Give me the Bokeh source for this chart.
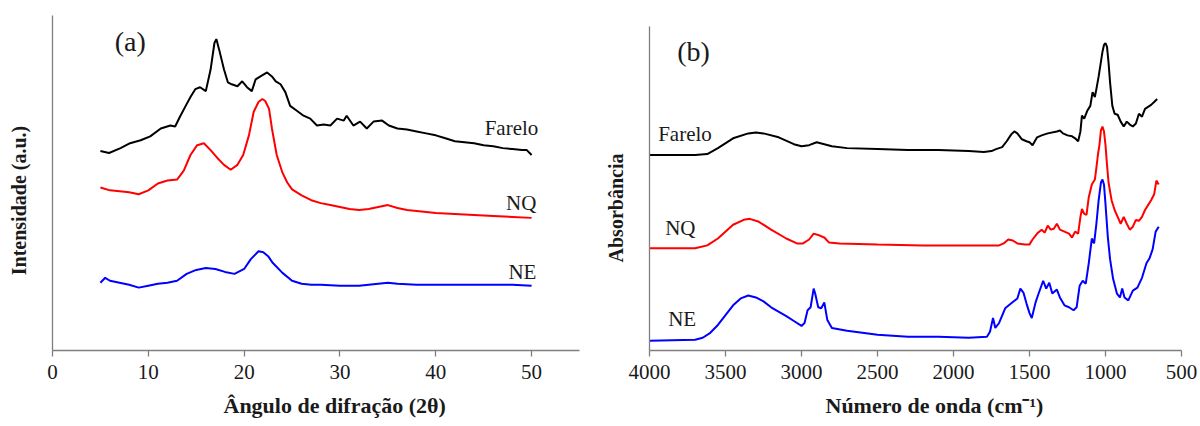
from bokeh.plotting import figure
from bokeh.layouts import row
from bokeh.models import Range1d, FixedTicker, Title
from bokeh.core.properties import value
from bokeh.embed import file_html
from bokeh.resources import INLINE

# ---------------- Panel (a): XRD ----------------
xrd_far_x = [5.0, 5.9, 7.1, 8.1, 9.2, 10.2, 11.3, 12.3, 12.8, 13.3, 13.9, 14.4, 14.9, 15.4, 16.0, 16.5, 16.9,
             17.1, 17.4, 17.9, 18.3, 18.7, 19.3, 19.8, 20.3, 20.8, 21.2, 21.7, 22.4, 22.9, 23.3, 23.8, 24.3,
             24.8, 25.5, 26.2, 26.9, 27.6, 28.3, 29.0, 29.7, 30.4, 30.7, 31.4, 32.1, 32.8, 33.5, 34.4, 35.1,
             36, 37, 38, 39, 40, 41, 42, 43, 44, 45, 46, 47, 48, 49, 49.5, 50]
xrd_far_y = [202, 200, 205, 210, 213, 217, 225, 228, 227, 237, 248, 257, 265, 267, 263, 285, 312,
             316, 305, 285, 272, 270, 268, 273, 267, 263, 275, 278, 282, 278, 273, 270, 262,
             248, 243, 238, 235, 228, 229, 228, 235, 233, 238, 228, 232, 225, 232, 233, 228,
             225, 224, 222, 220, 218, 215, 212, 211, 210, 208, 207, 205, 204, 203, 203, 198]

xrd_nq_x = [5, 6, 7, 8, 9, 10, 11, 12, 13, 13.7, 14.4, 15.1, 15.8, 16.5, 17.2, 17.9, 18.6, 19.3, 19.9,
            20.5, 21.0, 21.5, 21.9, 22.2, 22.6, 22.9, 23.4, 24.0, 24.5, 25, 26, 27, 28, 29, 30, 31, 32,
            33, 34, 35, 36, 37, 38, 39, 40, 42, 44, 46, 48, 50]
xrd_nq_y = [165, 162, 161, 160, 158, 162, 169, 172, 173, 182, 198, 208, 210, 203, 195, 188, 183, 188, 198,
            218, 242, 252, 255, 253, 245, 225, 198, 180, 170, 163, 157, 152, 149, 147, 145, 143, 142,
            143, 145, 147, 144, 142, 141, 140, 139, 138, 137, 136, 135, 134]

xrd_ne_x = [5, 5.5, 6, 7, 8, 9, 10, 11, 12, 13, 14, 15, 16, 17, 18, 19, 20, 20.7, 21.5, 22, 22.5, 23, 24,
            25, 26, 27, 28, 30, 32, 34, 35, 36, 38, 40, 42, 45, 48, 50]
xrd_ne_y = [68, 73, 70, 68, 66, 63, 65, 67, 68, 70, 77, 81, 83, 82, 79, 77, 82, 92, 100, 99, 95, 88, 78,
            70, 67, 66, 66, 65, 65, 67, 68, 67, 66, 66, 66, 66, 66, 65]

xrd_xticks = [0, 10, 20, 30, 40, 50]

# ---------------- Panel (b): FTIR ----------------
ft_far_x = [4000, 3700, 3620, 3550, 3450, 3350, 3300, 3250, 3150, 3050, 3000, 2950, 2900, 2850, 2800, 2700,
            2500, 2300, 2100, 1900, 1800, 1750, 1720, 1680, 1650, 1620, 1600, 1580, 1550, 1520, 1500, 1480,
            1450, 1420, 1380, 1320, 1300, 1280, 1250, 1220, 1200, 1180, 1165, 1155, 1140, 1120, 1100, 1085,
            1070, 1060, 1045, 1035, 1020, 1010, 1000, 990, 980, 970, 955, 940, 920, 900, 880, 860, 840, 820,
            800, 780, 760, 740, 720, 700, 680, 660]
ft_far_y = [199, 199, 200, 206, 216, 221, 222, 221, 217, 210, 208, 209, 212, 210, 208, 206,
            205, 204, 204, 203, 202, 203, 205, 207, 213, 220, 223, 221, 215, 213, 212, 209,
            217, 219, 221, 223, 224, 221, 219, 218, 216, 213, 223, 239, 236, 244, 249, 263,
            258, 266, 279, 289, 304, 311, 313, 309, 293, 273, 249, 241, 240, 233, 228, 233, 230, 228,
            231, 241, 238, 246, 248, 250, 253, 256]

ft_nq_x = [4000, 3700, 3620, 3550, 3450, 3380, 3340, 3280, 3200, 3100, 3030, 2990, 2950, 2920, 2880, 2850,
           2820, 2750, 2500, 2200, 1900, 1700, 1670, 1640, 1610, 1580, 1530, 1500, 1480, 1450, 1420, 1400,
           1380, 1360, 1340, 1320, 1300, 1270, 1240, 1220, 1200, 1180, 1165, 1155, 1140, 1125, 1110, 1090,
           1070, 1060, 1050, 1040, 1030, 1020, 1010, 1000, 990, 980, 960, 940, 920, 900, 880, 860, 840, 820,
           800, 780, 760, 740, 720, 700, 680, 665, 650]
ft_nq_y = [104, 104, 107, 114, 128, 133, 134, 131, 123, 114, 109, 109, 113, 119, 117, 115,
           110, 109, 108, 107, 107, 107, 109, 113, 112, 109, 108, 108, 113, 119, 123, 120,
           127, 123, 124, 129, 123, 121, 119, 115, 121, 119, 136, 144, 139, 138, 156, 169,
           174, 186, 199, 209, 224, 228, 223, 209, 189, 171, 153, 143, 136, 129, 136, 129, 123, 126,
           133, 132, 136, 143, 148, 153, 159, 173, 169]

ft_ne_x = [4000, 3700, 3650, 3600, 3550, 3500, 3450, 3400, 3350, 3300, 3250, 3200, 3100, 3050, 3000, 2980,
           2960, 2940, 2920, 2910, 2890, 2870, 2850, 2830, 2800, 2700, 2500, 2300, 2100, 1900, 1780, 1760,
           1740, 1725, 1700, 1660, 1620, 1580, 1560, 1540, 1520, 1500, 1485, 1460, 1440, 1410, 1390, 1370,
           1350, 1320, 1300, 1270, 1240, 1210, 1190, 1170, 1150, 1130, 1110, 1090, 1075, 1060, 1045, 1030,
           1020, 1010, 1000, 985, 970, 950, 925, 905, 890, 875, 850, 820, 790, 760, 730, 710, 690, 670, 650]
ft_ne_y = [10, 11, 13, 18, 26, 36, 46, 53, 56, 54, 50, 44, 35, 30, 25, 28,
           41, 44, 63, 58, 44, 43, 49, 31, 23, 20, 16, 14, 14, 13, 14, 19,
           33, 23, 28, 43, 48, 53, 63, 59, 48, 38, 33, 49, 58, 71, 63, 69,
           58, 62, 54, 46, 44, 41, 44, 66, 71, 68, 89, 114, 109, 129, 153, 171,
           174, 169, 149, 116, 93, 73, 58, 54, 63, 54, 51, 61, 64, 74, 89, 94, 103, 121, 126]

ft_xticks = [4000, 3500, 3000, 2500, 2000, 1500, 1000, 500]

FONT = "Liberation Serif"
AXIS_GRAY = "#7f7f7f"
TXT = "#1a1a1a"
NBSP = "\u00a0"


def style(p, ylabel, pad, ybounds):
    p.grid.visible = False
    p.outline_line_color = None
    p.background_fill_color = "white"
    p.border_fill_color = "white"
    for ax in p.xaxis:
        ax.axis_line_color = AXIS_GRAY
        ax.axis_line_width = 1.3
        ax.major_tick_line_color = AXIS_GRAY
        ax.major_tick_line_width = 1.3
        ax.major_tick_out = 6
        ax.major_tick_in = 0
        ax.minor_tick_line_color = None
        ax.major_label_text_font = FONT
        ax.major_label_text_font_size = "21px"
        ax.major_label_text_color = TXT
        ax.major_label_standoff = 8
    for ax in p.yaxis:
        ax.axis_line_color = AXIS_GRAY
        ax.axis_line_width = 1.3
        ax.bounds = ybounds
        ax.ticker = FixedTicker(ticks=[])
        ax.major_tick_line_color = None
        ax.minor_tick_line_color = None
        ax.major_label_text_font_size = "0px"
        # trailing non-breaking spaces shift the visible title downwards along the axis
        ax.axis_label = ylabel + NBSP * pad
        ax.axis_label_text_font = FONT
        ax.axis_label_text_font_size = "20px"
        ax.axis_label_text_font_style = "bold"
        ax.axis_label_text_color = TXT
        ax.axis_label_standoff = 23


# Panel (a)
pa = figure(width=600, height=426, output_backend="svg", toolbar_location=None, title=None,
            x_range=Range1d(0, 55), y_range=Range1d(-1, 340),
            min_border_left=52, min_border_right=21, min_border_top=15, min_border_bottom=70)
style(pa, "Intensidade (a.u.)", 7, (-1, 340))
pa.xaxis.ticker = FixedTicker(ticks=xrd_xticks)
pa.line(xrd_far_x, xrd_far_y, line_color="black", line_width=2)
pa.line(xrd_nq_x, xrd_nq_y, line_color="red", line_width=2)
pa.line(xrd_ne_x, xrd_ne_y, line_color="blue", line_width=2)
pa.text(x=[50.7, 50.5, 50.5], y=[225, 149, 79], text=["Farelo", "NQ", "NE"],
        text_align="right", text_baseline="middle", text_font=value(FONT),
        text_font_size="21px", text_color=TXT)
pa.text(x=[6.5], y=[314], text=["(a)"], text_align="left", text_baseline="middle",
        text_font=value(FONT), text_font_size="28px", text_color=TXT)
pa.add_layout(Title(text="Ângulo de difração (2θ)", align="left", offset=171, standoff=18,
                    text_font=FONT, text_font_size="22px", text_font_style="bold",
                    text_color=TXT), "below")

# Panel (b)
pb = figure(width=600, height=426, output_backend="svg", toolbar_location=None, title=None,
            x_range=Range1d(4000, 500), y_range=Range1d(0, 341),
            min_border_left=49, min_border_right=19, min_border_top=15, min_border_bottom=70)
style(pb, "Absorbância", 10, (0, 330))
pb.xaxis.ticker = FixedTicker(ticks=ft_xticks)
pb.line(ft_far_x, ft_far_y, line_color="black", line_width=2)
pb.line(ft_nq_x, ft_nq_y, line_color="red", line_width=2)
pb.line(ft_ne_x, ft_ne_y, line_color="blue", line_width=2)
pb.text(x=[3943, 3897, 3877], y=[220, 125, 32], text=["Farelo", "NQ", "NE"],
        text_align="left", text_baseline="middle", text_font=value(FONT),
        text_font_size="21px", text_color=TXT)
pb.text(x=[3818], y=[304], text=["(b)"], text_align="left", text_baseline="middle",
        text_font=value(FONT), text_font_size="28px", text_color=TXT)
pb.add_layout(Title(text="Número de onda (cm⁻¹)", align="left", offset=176, standoff=18,
                    text_font=FONT, text_font_size="22px", text_font_style="bold",
                    text_color=TXT), "below")

layout = row(pa, pb)
open("out.html", "w").write(file_html(layout, INLINE))
